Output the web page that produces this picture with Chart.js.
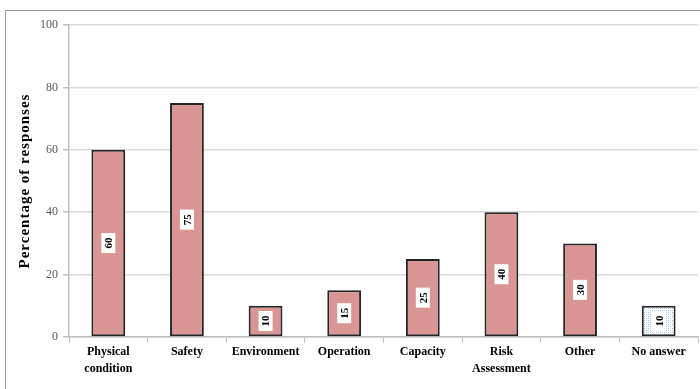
<!DOCTYPE html>
<html>
<head>
<meta charset="utf-8">
<script src="https://cdn.jsdelivr.net/npm/chart.js@4.4.1/dist/chart.umd.min.js"></script>
<style>
  html, body { margin: 0; padding: 0; background: #fff; overflow: hidden; }
  #wrap { position: relative; width: 700px; height: 389px; }
  #frame { position: absolute; left: 5px; top: 10px; width: 800px; height: 500px;
           border: 1.5px solid #9a9a9a; box-sizing: border-box; pointer-events: none; }
  canvas { position: absolute; left: 0; top: 0; }
</style>
</head>
<body>
<div id="wrap">
  <canvas id="c" width="700" height="389"></canvas>
  <div id="frame"></div>
</div>
<script>
// Reasons given for the assessment, share of respondents (%)
const categories = [
  ['Physical', 'condition'], 'Safety', 'Environment', 'Operation',
  'Capacity', ['Risk', 'Assessment'], 'Other', 'No answer'
];
const percentages = [60, 75, 10, 15, 25, 40, 30, 10];
const yTicks = [0, 20, 40, 60, 80, 100];
const yTitle = 'Percentage of responses';

const SERIF = '"Liberation Serif", "Times New Roman", serif';

// dotted light-blue fill for the "No answer" bar
function dotPattern() {
  const p = document.createElement('canvas');
  p.width = 4; p.height = 4;
  const g = p.getContext('2d');
  g.fillStyle = '#ffffff';
  g.fillRect(0, 0, 4, 4);
  g.fillStyle = '#8fc3da';
  g.fillRect(0, 0, 1, 1);
  g.fillRect(2, 2, 1, 1);
  g.fillStyle = '#c4e1ec';
  g.fillRect(2, 0, 1, 1);
  g.fillRect(0, 2, 1, 1);
  return g.createPattern(p, 'repeat');
}

const ctx = document.getElementById('c').getContext('2d');
const pattern = dotPattern();
const fills = categories.map((c, i) => i === categories.length - 1 ? pattern : '#d99694');

// value badge: white box with the number rotated, centred in each bar
const valueBadges = {
  id: 'valueBadges',
  afterDatasetsDraw(chart) {
    const c = chart.ctx;
    const meta = chart.getDatasetMeta(0);
    meta.data.forEach((bar, i) => {
      const v = chart.data.datasets[0].data[i];
      const cx = bar.x;
      const cy = (bar.y + bar.base) / 2;
      c.save();
      c.font = 'bold 11px ' + SERIF;
      const tw = c.measureText(String(v)).width;
      const bw = 14, bh = tw + 9;
      c.fillStyle = '#ffffff';
      c.fillRect(cx - bw / 2, cy - bh / 2, bw, bh);
      c.translate(cx, cy);
      c.rotate(-Math.PI / 2);
      c.fillStyle = '#000';
      c.textAlign = 'center';
      c.textBaseline = 'middle';
      c.fillText(String(v), 0, 1);
      c.restore();
    });
  }
};

// rotated, slightly tracked y-axis title
const axisTitle = {
  id: 'axisTitle',
  afterDraw(chart) {
    const c = chart.ctx;
    const a = chart.chartArea;
    c.save();
    c.translate(25, (a.top + a.bottom) / 2);
    c.rotate(-Math.PI / 2);
    c.font = 'bold 15px ' + SERIF;
    if ('letterSpacing' in c) c.letterSpacing = '1px';
    c.fillStyle = '#000';
    c.textAlign = 'center';
    c.textBaseline = 'middle';
    c.fillText(yTitle, 0, 0);
    c.restore();
  }
};

new Chart(ctx, {
  type: 'bar',
  data: {
    labels: categories,
    datasets: [{
      data: percentages,
      backgroundColor: fills,
      borderColor: '#262626',
      borderWidth: 2,
      borderSkipped: false,
      barPercentage: 0.43,
      categoryPercentage: 1.0
    }]
  },
  options: {
    responsive: false,
    animation: false,
    events: [],
    layout: { padding: { left: 0, right: 2, top: 25, bottom: 0 } },
    plugins: {
      legend: { display: false },
      tooltip: { enabled: false }
    },
    scales: {
      x: {
        grid: {
          offset: true,
          drawOnChartArea: false,
          drawTicks: true,
          tickLength: 6,
          color: '#bfbfbf',
          lineWidth: 1
        },
        border: { display: true, color: '#bfbfbf', width: 1.5 },
        ticks: {
          color: '#000',
          font: { family: SERIF, size: 12, weight: 'bold', lineHeight: 1.4 },
          padding: 1,
          maxRotation: 0,
          autoSkip: false
        },
        afterFit(scale) { scale.height = 52; }
      },
      y: {
        min: 0,
        max: 100,
        afterBuildTicks(scale) { scale.ticks = yTicks.map(v => ({ value: v })); },
        grid: {
          color: '#d9d9d9',
          lineWidth: 1.5,
          tickLength: 6,
          tickColor: '#bfbfbf'
        },
        border: { display: true, color: '#bfbfbf', width: 1.5 },
        ticks: {
          color: '#595959',
          font: { family: SERIF, size: 12 },
          padding: 5
        },
        afterFit(scale) { scale.width = 69; }
      }
    }
  },
  plugins: [valueBadges, axisTitle]
});
</script>
</body>
</html>
